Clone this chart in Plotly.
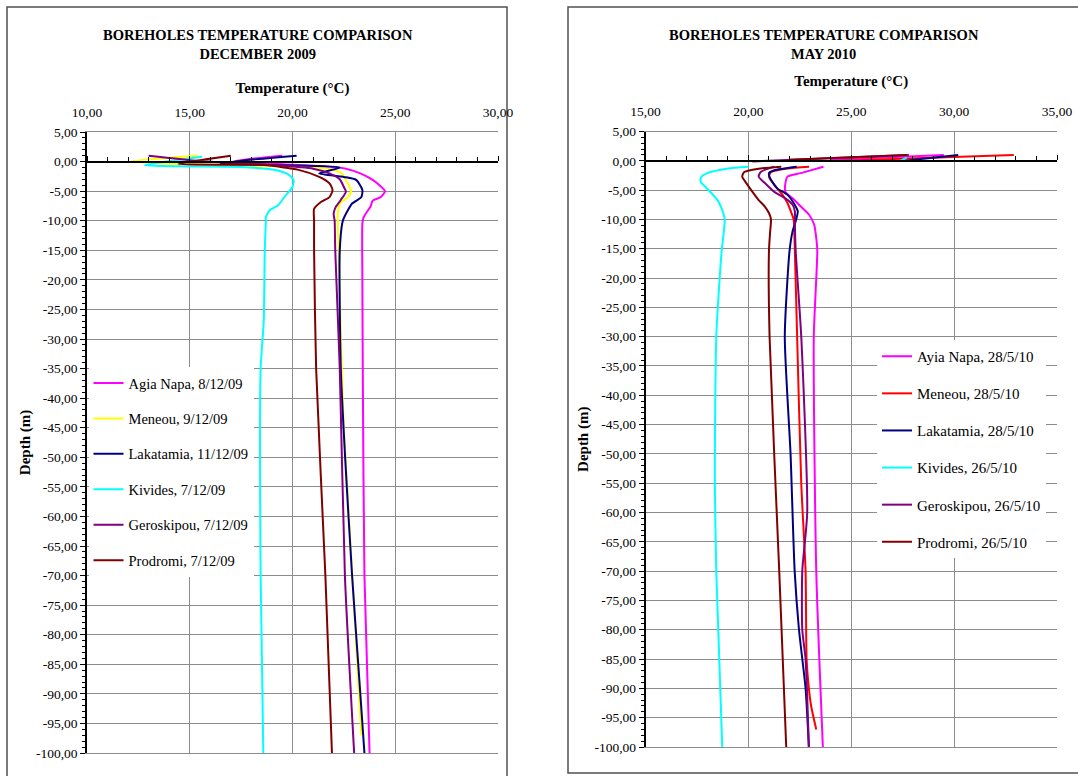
import plotly.graph_objects as go

# ---------------- DATA ----------------
# December 2009 (left chart): temperature (°C) vs depth (m)
dec_names = ["Agia Napa, 8/12/09", "Meneou, 9/12/09", "Lakatamia, 11/12/09",
             "Kivides, 7/12/09", "Geroskipou, 7/12/09", "Prodromi, 7/12/09"]
dec_colors = ["#FF00FF", "#FFFF00", "#000080", "#00FFFF", "#800080", "#800000"]

dec_agia_t = [19.5, 17.2, 21.5, 22.6, 23.3, 23.9, 24.3, 24.5, 24.3, 23.9, 23.8, 23.6, 23.45, 23.4, 23.4, 23.42, 23.5, 23.75]
dec_agia_d = [1.0, 0.1, -0.8, -1.2, -2.0, -3.1, -4.2, -5.0, -6.0, -6.6, -7.6, -8.6, -9.5, -10.5, -20, -35, -70, -100]

dec_meneou_t = [15.4, 12.2, 13.5, 17.0, 21.8, 22.4, 22.6, 22.85, 22.7, 22.3, 22.2, 22.2, 22.25, 22.4, 22.5, 23.35]
dec_meneou_d = [1.0, 0.1, -0.3, -0.6, -1.2, -2.0, -3.1, -5.0, -6.0, -7.1, -8.8, -10.0, -15, -35, -45, -97]

dec_lakat_t = [20.2, 16.5, 22.3, 21.3, 22.5, 23.1, 23.4, 23.35, 22.9, 22.7, 22.45, 22.3, 22.35, 22.56, 22.9, 23.3, 23.5]
dec_lakat_d = [1.0, -0.3, -1.0, -2.0, -2.6, -3.1, -4.8, -6.0, -7.1, -8.2, -10.0, -15, -35, -50, -70, -90, -100]

dec_kiv_t = [15.6, 12.8, 14.5, 17.5, 19.1, 19.8, 20.05, 20.0, 19.6, 19.3, 18.9, 18.7, 18.7, 18.65, 18.6, 18.45, 18.45, 18.58]
dec_kiv_d = [0.8, -0.6, -0.8, -0.9, -1.4, -2.2, -3.1, -4.3, -6.0, -7.4, -8.2, -9.4, -10.2, -15, -27, -35, -70, -100]

dec_geros_t = [13.0, 15.5, 19.0, 21.0, 21.8, 22.3, 22.5, 22.6, 22.35, 22.1, 22.0, 22.05, 22.08, 22.3, 22.55, 23.0]
dec_geros_d = [1.0, 0.1, -0.6, -1.2, -2.0, -3.0, -4.3, -5.1, -6.5, -7.7, -8.8, -10.0, -15, -35, -70, -100]

dec_prod_t = [17.0, 14.45, 18.6, 20.3, 21.3, 21.8, 21.95, 21.8, 21.4, 21.05, 21.05, 21.05, 21.15, 21.6, 21.92]
dec_prod_d = [1.0, -0.4, -0.6, -1.4, -2.6, -3.7, -4.8, -6.0, -6.8, -8.0, -10.0, -15, -35, -70, -100]

# May 2010 (right chart)
may_names = ["Ayia Napa, 28/5/10", "Meneou, 28/5/10", "Lakatamia, 28/5/10",
             "Kivides, 26/5/10", "Geroskipou, 26/5/10", "Prodromi, 26/5/10"]
may_colors = ["#FF00FF", "#FF0000", "#000080", "#00FFFF", "#800080", "#800000"]

may_agia_t = [29.5, 24.0, None, 23.65, 22.55, 21.9, 21.8, 21.8, 22.15, 22.55, 22.95, 23.2, 23.3, 23.35, 23.18, 23.3, 23.62]
may_agia_d = [1.0, 0.2, None, -1.0, -2.1, -2.7, -3.8, -5.3, -6.4, -7.8, -9.2, -10.9, -13.2, -15.4, -30, -70, -100]

may_meneou_t = [32.9, 24.5, None, 22.95, 21.9, 21.1, 21.0, 21.26, 21.66, 21.9, 22.06, 22.2, 22.23, 22.26, 22.37, 22.57, 22.78, 22.83, 22.94, 23.05, 23.3]
may_meneou_d = [1.0, 0.0, None, -1.0, -1.3, -1.9, -2.7, -4.1, -5.8, -7.2, -8.6, -10, -12, -15.4, -30, -55, -70, -85, -90, -93, -97]

may_lakat_t = [30.2, 27.6, None, 22.35, 21.26, 21.0, 21.06, 21.4, 21.9, 22.2, 22.4, 22.3, 22.15, 22.0, 21.77, 22.05, 22.25, 22.46, 22.78, 22.94]
may_lakat_d = [1.0, 0.0, None, -1.0, -1.6, -2.1, -3.0, -4.7, -5.8, -7.2, -8.6, -10.3, -12, -15.4, -30, -50, -70, -80, -90, -100]

may_kiv_t = [27.7, 27.4, None, 20.0, 19.0, 18.0, 17.7, 17.68, 17.9, 18.2, 18.5, 18.7, 18.85, 18.8, 18.7, 18.44, 18.37, 18.44, 18.73]
may_kiv_d = [0.6, 0.0, None, -1.0, -1.3, -2.1, -2.8, -3.6, -4.4, -5.5, -6.7, -8.1, -10, -12.3, -15.4, -30, -55, -70, -100]

may_geros_t = [27.8, 20.2, None, 21.26, 20.6, 20.5, 20.8, 21.26, 21.8, 22.15, 22.26, 22.26, 22.3, 22.57, 22.86, 22.62, 22.62, 22.78, 22.94]
may_geros_d = [1.0, -0.1, None, -1.0, -1.9, -2.7, -3.8, -5.3, -6.4, -7.5, -8.6, -10.3, -15.4, -30, -60, -70, -80, -85, -100]

may_prod_t = [27.7, 22.0, None, 21.6, 20.6, 19.8, 19.7, 19.9, 20.2, 20.5, 20.8, 21.0, 21.1, 21.06, 21.0, 21.03, 21.5, 21.84]
may_prod_d = [1.0, 0.2, None, -1.0, -1.3, -1.9, -2.7, -3.8, -5.3, -6.7, -7.8, -8.9, -10, -12, -15.4, -30, -70, -100]

# Tick labels
dec_x_ticks = [10, 15, 20, 25, 30]
may_x_ticks = [15, 20, 25, 30, 35]
depth_ticks = list(range(5, -101, -5))

dec_series = [(dec_agia_t, dec_agia_d), (dec_meneou_t, dec_meneou_d), (dec_lakat_t, dec_lakat_d),
              (dec_kiv_t, dec_kiv_d), (dec_geros_t, dec_geros_d), (dec_prod_t, dec_prod_d)]
may_series = [(may_agia_t, may_agia_d), (may_meneou_t, may_meneou_d), (may_lakat_t, may_lakat_d),
              (may_kiv_t, may_kiv_d), (may_geros_t, may_geros_d), (may_prod_t, may_prod_d)]


def fmt(v):
    return f"{v:.2f}".replace(".", ",")


# ---------------- FIGURE ----------------
W, H = 1078, 776
SERIF = "Liberation Serif, Times New Roman, serif"
GRID = "#8C8C8C"

fig = go.Figure()

for i, ((t, d), name, col) in enumerate(zip(dec_series, dec_names, dec_colors)):
    fig.add_trace(go.Scatter(x=t, y=d, mode="lines", name=name, legend="legend",
                             legendgroup=f"L{i}", xaxis="x", yaxis="y",
                             line=dict(color=col, width=2, shape="spline", smoothing=0.6),
                             connectgaps=False))
for i, ((t, d), name, col) in enumerate(zip(may_series, may_names, may_colors)):
    fig.add_trace(go.Scatter(x=t, y=d, mode="lines", name=name, legend="legend2",
                             legendgroup=f"R{i}", xaxis="x2", yaxis="y2",
                             line=dict(color=col, width=2, shape="spline", smoothing=0.6),
                             connectgaps=False))

# invisible helpers so the zero-depth axes are created
fig.add_trace(go.Scatter(x=[None], y=[None], xaxis="x3", yaxis="y", showlegend=False, hoverinfo="skip"))
fig.add_trace(go.Scatter(x=[None], y=[None], xaxis="x4", yaxis="y2", showlegend=False, hoverinfo="skip"))

L_x = [87 / W, 498 / W]
L_y = [1 - 753 / H, 1 - 132 / H]
R_x = [645.5 / W, 1057 / W]
R_y = [1 - 747 / H, 1 - 131.5 / H]
Y_RANGE = [-100, 5]


def zero_pos(dom):
    return dom[0] + (0 - Y_RANGE[0]) / (Y_RANGE[1] - Y_RANGE[0]) * (dom[1] - dom[0])


def top_xaxis(dom, rng, ticks, anchor, title_standoff):
    return dict(domain=dom, range=rng, anchor=anchor, side="top", automargin=False,
                tickvals=ticks, ticktext=[fmt(v) for v in ticks],
                tickfont=dict(family=SERIF, size=13.5, color="black"),
                ticks="outside", ticklen=9, tickcolor="rgba(0,0,0,0)",
                showgrid=True, gridcolor=GRID, gridwidth=1.2,
                showline=True, linecolor=GRID, linewidth=1.2, mirror=True,
                zeroline=False, fixedrange=True,
                title=dict(text="<b>Temperature (°C)</b>", standoff=title_standoff,
                           font=dict(family=SERIF, size=15, color="black")))


def left_yaxis(dom, anchor):
    return dict(domain=dom, range=Y_RANGE, anchor=anchor, automargin=False,
                tickvals=depth_ticks, ticktext=[fmt(v) for v in depth_ticks],
                tickfont=dict(family=SERIF, size=13.5, color="black"),
                ticks="outside", ticklen=5, tickcolor="black", tickwidth=1,
                minor=dict(dtick=1, tick0=0, ticks="outside", ticklen=3, tickcolor="black", showgrid=False),
                showgrid=True, gridcolor=GRID, gridwidth=1.2,
                showline=True, linecolor="black", linewidth=1.5,
                zeroline=False, fixedrange=True,
                title=dict(text="<b>Depth (m)</b>", standoff=2,
                           font=dict(family=SERIF, size=15, color="black")))


def zero_axis(dom_y, rng, overlay):
    return dict(overlaying=overlay, anchor="free", position=zero_pos(dom_y), side="top",
                automargin=False,
                range=rng, dtick=5, tick0=0, showticklabels=False,
                ticks="outside", ticklen=5, tickcolor="black",
                minor=dict(dtick=1, tick0=0, ticks="outside", ticklen=4, tickcolor="black", showgrid=False),
                showgrid=False, zeroline=False, showline=True, linecolor="black", linewidth=1.5,
                fixedrange=True)


fig.update_layout(
    template="none",
    width=W, height=H, autosize=False,
    margin=dict(l=0, r=0, t=0, b=0, pad=0),
    paper_bgcolor="white", plot_bgcolor="white",
    font=dict(family=SERIF, color="black"),
    xaxis=top_xaxis(L_x, [10, 30], dec_x_ticks, "y", 7),
    yaxis=left_yaxis(L_y, "x"),
    xaxis2=top_xaxis(R_x, [15, 35], may_x_ticks, "y2", 13),
    yaxis2=left_yaxis(R_y, "x2"),
    xaxis3=zero_axis(L_y, [10, 30], "x"),
    xaxis4=zero_axis(R_y, [15, 35], "x2"),
    legend=dict(x=88.5 / W, y=1 - 367 / H, xanchor="left", yanchor="top",
                bgcolor="white", borderwidth=0, tracegroupgap=13.6,
                font=dict(family=SERIF, size=14.5, color="black")),
    legend2=dict(x=877 / W, y=1 - 340 / H, xanchor="left", yanchor="top",
                 bgcolor="white", borderwidth=0, tracegroupgap=14.6,
                 font=dict(family=SERIF, size=15, color="black")),
    showlegend=True,
    annotations=[
        dict(text="<b>BOREHOLES TEMPERATURE COMPARISON<br>DECEMBER 2009</b>",
             x=258 / W, y=1 - 44 / H, xref="paper", yref="paper", showarrow=False,
             xanchor="center", yanchor="middle", font=dict(family=SERIF, size=14.5, color="black")),
        dict(text="<b>BOREHOLES TEMPERATURE COMPARISON<br>MAY 2010</b>",
             x=824 / W, y=1 - 44 / H, xref="paper", yref="paper", showarrow=False,
             xanchor="center", yanchor="middle", font=dict(family=SERIF, size=14.5, color="black")),
    ],
    shapes=[
        # outer chart frames
        dict(type="rect", xref="paper", yref="paper", x0=7 / W, x1=507 / W, y0=1 - 792 / H, y1=1 - 7 / H,
             line=dict(color="#505050", width=1.5), fillcolor="rgba(0,0,0,0)", layer="below"),
        dict(type="rect", xref="paper", yref="paper", x0=568 / W, x1=1082 / W, y0=1 - 773 / H, y1=1 - 7 / H,
             line=dict(color="#505050", width=1.5), fillcolor="rgba(0,0,0,0)", layer="below"),
    ],
)

fig.write_html("out.html",
               config={"displayModeBar": False, "responsive": False},
               post_script="document.body.style.margin='0';document.body.style.padding='0';"
                           "document.body.style.overflow='hidden';")
